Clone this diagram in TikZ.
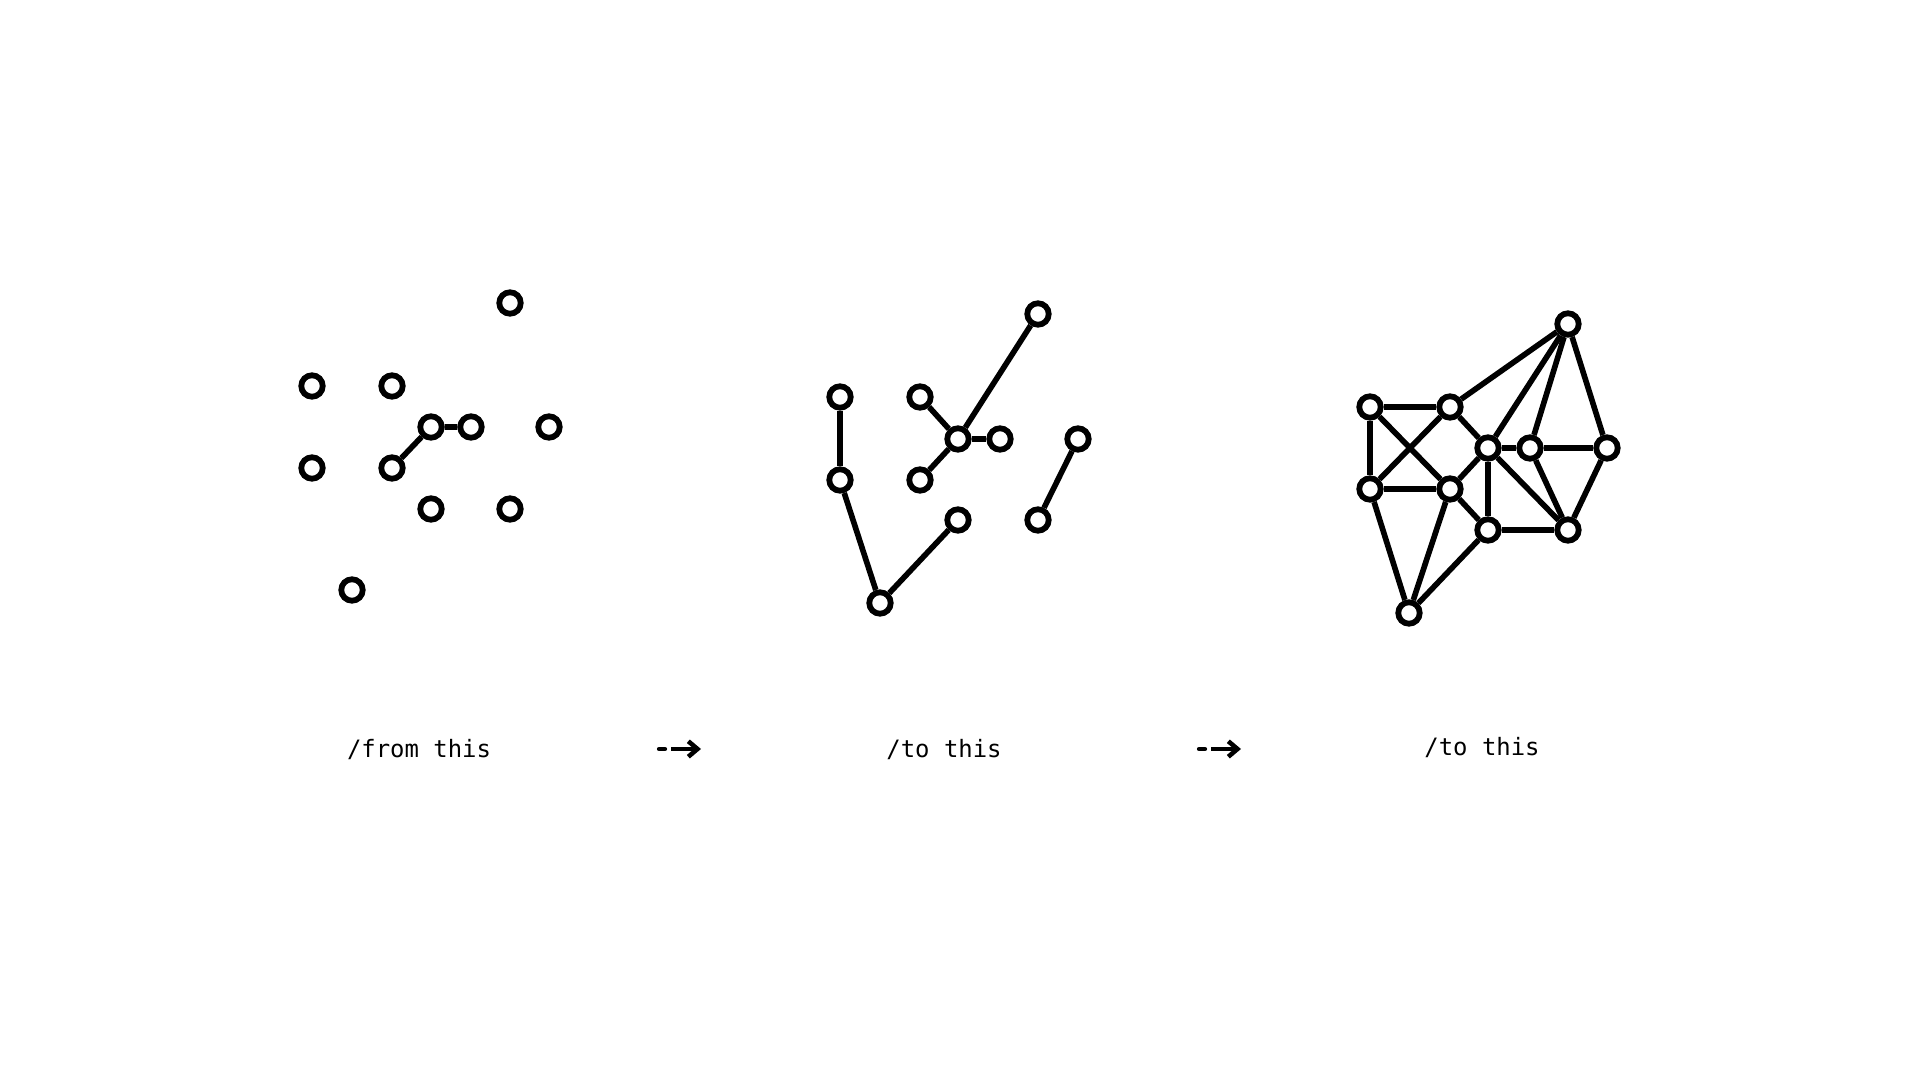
\documentclass[tikz,border=0pt]{standalone}
\usepackage{fontspec}
\setmonofont{DejaVu Sans Mono}
\usetikzlibrary{arrows.meta}
\tikzset{
  dot/.style={circle,draw,line width=1.65pt,minimum size=6.1pt,inner sep=0pt,fill=white},
  link/.style={line width=1.6pt},
  caption/.style={font=\ttfamily\fontsize{6.8pt}{8pt}\selectfont,anchor=center},
}
\begin{document}
\begin{tikzpicture}[x=0.01cm,y=-0.01cm,>=latex]
    \useasboundingbox[fill=white] (0,0) rectangle (1920,1080);
    % from this
    \foreach \n/\xp/\yp in {p1/510/303,p2/312/386,p3/392/386,p4/431/427,p5/471/427,p6/549/427,
                            p7/312/468,p8/392/468,p9/431/509,p10/510/509,p11/352/590}
        {\node[dot] (\n) at (\xp,\yp) {};}
    \draw[link] (p8) -- (p4) -- (p5);
    % to this
    \foreach \n/\xp/\yp in {qA/840/397,qB/840/480,qC/880/603,qD/958/520,qE/920/397,qF/958/439,
                            qG/1000/439,qH/920/480,qI/1038/314,qJ/1078/439,qK/1038/520}
        {\node[dot] (\n) at (\xp,\yp) {};}
    \foreach \u/\v in {qA/qB,qB/qC,qC/qD,qE/qF,qF/qG,qF/qH,qF/qI,qJ/qK}
        {\draw[link] (\u) -- (\v);}
    % to this, all linked
    \foreach \n/\xp/\yp in {ra/1370/407,rb/1450/407,rc/1568/324,rd/1488/448,re/1530/448,rf/1607/448,
                            rg/1370/489,rh/1450/489,ri/1488/530,rj/1568/530,rk/1409/613}
        {\node[dot] (\n) at (\xp,\yp) {};}
    \foreach \u/\v in {ra/rb,ra/rg,ra/rh,rb/rg,rb/rc,rb/rd,rg/rh,rg/rk,rh/rk,rh/rd,rh/ri,
                       rc/rd,rc/re,rc/rf,rd/re,re/rf,rd/ri,rd/rj,re/rj,rf/rj,ri/rj,ri/rk}
        {\draw[link] (\u) -- (\v);}
    % captions
    \node[caption] (capA) at (419,750) {/from this};
    \node[caption] (capB) at (944,750) {/to this};
    \node[caption] (capC) at (1482,748) {/to this};
    % arrows between
    \foreach \s/\xp in {one/0,two/540}{
        \coordinate (dash\s a) at (659+\xp,749);
        \coordinate (dash\s b) at (665+\xp,749);
        \coordinate (arr\s a) at (671+\xp,749);
        \coordinate (arr\s b) at (701+\xp,749);
        \draw[line width=1.2pt,line cap=round] (dash\s a) -- (dash\s b);
        \draw[line width=1.4pt,-{Straight Barb[length=2.6pt,width=4.4pt,line width=1.3pt]}] (arr\s a) -- (arr\s b);
    }
\end{tikzpicture}
\end{document}
